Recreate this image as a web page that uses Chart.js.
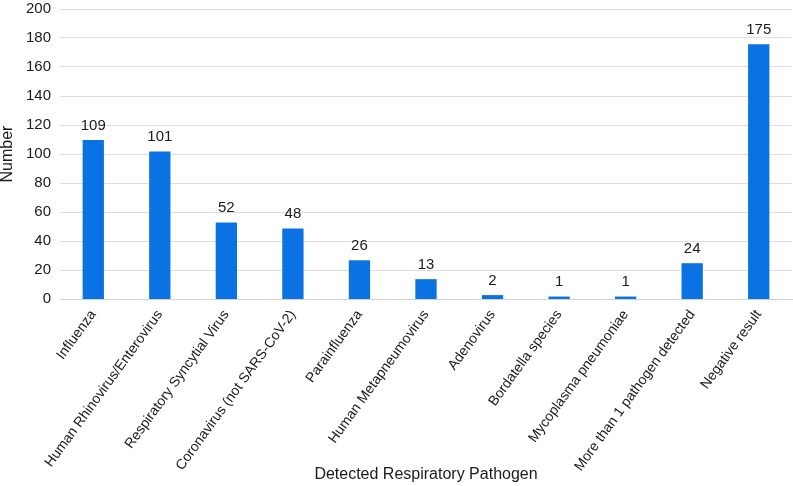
<!DOCTYPE html>
<html><head><meta charset="utf-8">
<script src="https://cdn.jsdelivr.net/npm/chart.js@4/dist/chart.umd.min.js"></script>
<style>html,body{margin:0;padding:0;background:#fff}#wrap{width:793px;height:486px}</style>
</head><body><div id="wrap"><canvas id="c" width="793" height="486"></canvas></div>
<script>
const categories = ["Influenza","Human Rhinovirus/Enterovirus","Respiratory Syncytial Virus","Coronavirus (not SARS-CoV-2)","Parainfluenza","Human Metapneumovirus","Adenovirus","Bordatella species","Mycoplasma pneumoniae","More than 1 pathogen detected","Negative result"];
const counts = [109,101,52,48,26,13,2,1,1,24,175];
const yTicks = [0,20,40,60,80,100,120,140,160,180,200];
const FONT = '"Liberation Sans", Arial, sans-serif';

const labelPlugin = {
  id:'labels',
  afterDatasetsDraw(chart){
    const ctx = chart.ctx;
    const meta = chart.getDatasetMeta(0);
    ctx.save();
    ctx.font = '15px ' + FONT;
    ctx.fillStyle = '#1a1a1a';
    ctx.textAlign = 'center';
    ctx.textBaseline = 'bottom';
    meta.data.forEach((bar,i)=>{
      ctx.fillText(String(counts[i]), bar.x, bar.y - 8);
    });
    ctx.restore();
  }
};

new Chart(document.getElementById('c'), {
  type:'bar',
  data:{labels:categories, datasets:[{data:counts, backgroundColor:'#0a72e2', borderWidth:0, inflateAmount:1, barPercentage:0.29, categoryPercentage:1.0}]},
  options:{
    responsive:false, animation:false,
    layout:{padding:{top:0,right:1,left:0,bottom:0}},
    plugins:{legend:{display:false}, tooltip:{enabled:false}},
    scales:{
      x:{
        afterFit(scale){ scale.height = 187; },
        grid:{display:false, drawTicks:false},
        border:{display:true, color:'#d0d0d0', width:1},
        ticks:{color:'#1a1a1a', font:{family:FONT, size:14}, maxRotation:54, minRotation:54, padding:8, autoSkip:false},
        title:{display:true, text:'Detected Respiratory Pathogen', color:'#1a1a1a', font:{family:FONT, size:16}, padding:{top:0,bottom:2}}
      },
      y:{
        min:0, max:200,
        afterBuildTicks(axis){ axis.ticks = yTicks.map(v=>({value:v})); },
        afterFit(scale){ scale.paddingTop = 9; scale.width = 60; },
        grid:{color:'#dedede', drawTicks:false, lineWidth:1},
        border:{display:false},
        ticks:{color:'#1a1a1a', font:{family:FONT, size:15}, padding:9},
        title:{display:true, text:'Number', color:'#1a1a1a', font:{family:FONT, size:16}, padding:{top:-2,bottom:1}}
      }
    }
  },
  plugins:[labelPlugin]
});
</script></body></html>
